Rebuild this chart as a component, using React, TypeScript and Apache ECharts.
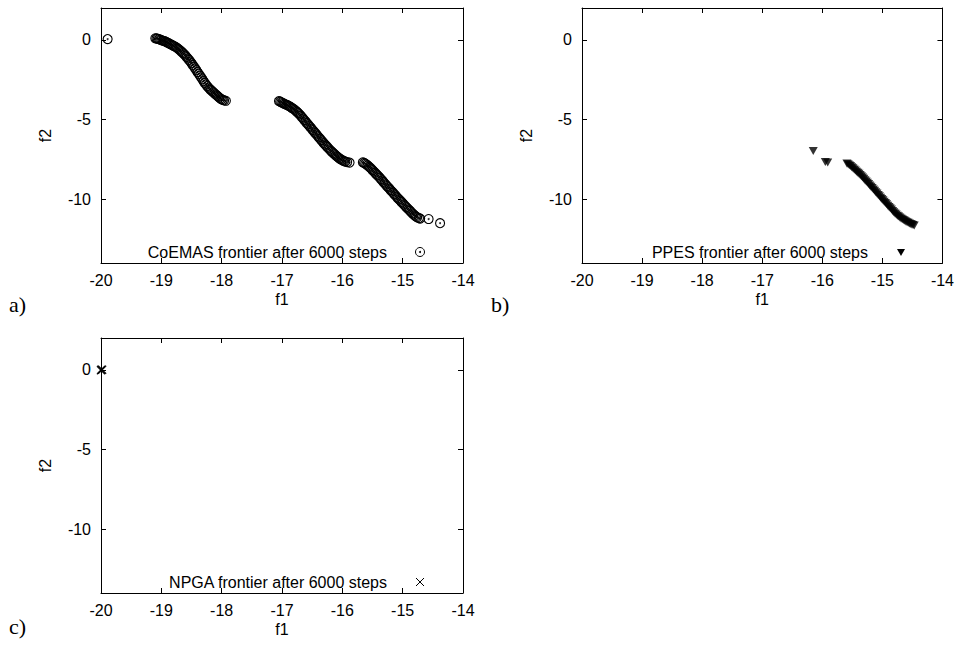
import React, { useEffect, useRef } from "react";
import * as echarts from "echarts";

// ---- axis ranges & ticks ----
const F1_MIN = -20;
const F1_MAX = -14;
const F1_STEP = 1;
const F2_MIN = -14;
const F2_MAX = 2;
const F2_TICKS = [-10, -5, 0];

// ---- CoEMAS frontier after 6000 steps (f1, f2) ----
const coemasIsolated: number[][] = [
  [-19.89, 0.05],
  [-14.57, -11.24],
  [-14.38, -11.5],
];
const coemasArc1: number[][] = [
  [-19.1, 0.1], [-19.08, 0.09], [-19.06, 0.07], [-19.04, 0.05], [-19.02, 0.02],
  [-19.0, -0.01], [-18.98, -0.04], [-18.96, -0.07], [-18.94, -0.1], [-18.92, -0.13],
  [-18.9, -0.17], [-18.88, -0.21], [-18.86, -0.25], [-18.84, -0.29], [-18.82, -0.33],
  [-18.8, -0.37], [-18.78, -0.4], [-18.76, -0.45], [-18.74, -0.5], [-18.72, -0.56],
  [-18.7, -0.62], [-18.68, -0.69], [-18.66, -0.76], [-18.64, -0.83], [-18.62, -0.91],
  [-18.6, -0.99], [-18.58, -1.08], [-18.56, -1.17], [-18.54, -1.26], [-18.52, -1.36],
  [-18.5, -1.46], [-18.48, -1.57], [-18.46, -1.68], [-18.44, -1.79], [-18.42, -1.9],
  [-18.4, -2.02], [-18.38, -2.13], [-18.36, -2.25], [-18.34, -2.36], [-18.32, -2.47],
  [-18.3, -2.59], [-18.28, -2.7], [-18.26, -2.8], [-18.24, -2.9], [-18.22, -2.99],
  [-18.2, -3.07], [-18.18, -3.14], [-18.16, -3.21], [-18.14, -3.28], [-18.12, -3.35],
  [-18.1, -3.42], [-18.08, -3.49], [-18.06, -3.56], [-18.04, -3.62], [-18.02, -3.68],
  [-18.0, -3.73], [-17.98, -3.77], [-17.96, -3.8], [-17.93, -3.82],
];
const coemasArc2: number[][] = [
  [-17.05, -3.84], [-17.03, -3.88], [-17.01, -3.92], [-16.99, -3.96], [-16.97, -4.0],
  [-16.95, -4.03], [-16.93, -4.07], [-16.91, -4.1], [-16.89, -4.14], [-16.87, -4.18],
  [-16.85, -4.23], [-16.83, -4.28], [-16.81, -4.33], [-16.79, -4.39], [-16.77, -4.45],
  [-16.75, -4.52], [-16.73, -4.59], [-16.71, -4.67], [-16.69, -4.76], [-16.67, -4.85],
  [-16.65, -4.94], [-16.63, -5.03], [-16.61, -5.12], [-16.59, -5.21], [-16.57, -5.3],
  [-16.55, -5.39], [-16.53, -5.48], [-16.51, -5.57], [-16.49, -5.66], [-16.47, -5.75],
  [-16.45, -5.84], [-16.43, -5.93], [-16.41, -6.02], [-16.39, -6.11], [-16.37, -6.2],
  [-16.35, -6.29], [-16.33, -6.38], [-16.31, -6.47], [-16.29, -6.56], [-16.27, -6.64],
  [-16.25, -6.72], [-16.23, -6.8], [-16.21, -6.88], [-16.19, -6.96], [-16.17, -7.03],
  [-16.15, -7.1], [-16.13, -7.17], [-16.11, -7.24], [-16.09, -7.31], [-16.07, -7.37],
  [-16.05, -7.43], [-16.03, -7.48], [-16.01, -7.53], [-15.99, -7.57], [-15.97, -7.61],
  [-15.95, -7.64], [-15.92, -7.67], [-15.88, -7.7],
];
const coemasArc3: number[][] = [
  [-15.66, -7.68], [-15.64, -7.72], [-15.62, -7.77], [-15.6, -7.82], [-15.58, -7.88],
  [-15.56, -7.95], [-15.54, -8.02], [-15.52, -8.09], [-15.5, -8.17], [-15.48, -8.25],
  [-15.46, -8.33], [-15.44, -8.41], [-15.42, -8.49], [-15.4, -8.57], [-15.38, -8.65],
  [-15.36, -8.73], [-15.34, -8.82], [-15.32, -8.91], [-15.3, -9.0], [-15.28, -9.08],
  [-15.26, -9.17], [-15.24, -9.25], [-15.22, -9.34], [-15.2, -9.42], [-15.18, -9.51],
  [-15.16, -9.59], [-15.14, -9.68], [-15.12, -9.76], [-15.1, -9.85], [-15.08, -9.93],
  [-15.06, -10.01], [-15.04, -10.09], [-15.02, -10.17], [-15.0, -10.25], [-14.98, -10.33],
  [-14.96, -10.41], [-14.94, -10.49], [-14.92, -10.57], [-14.9, -10.65], [-14.88, -10.72],
  [-14.86, -10.8], [-14.84, -10.88], [-14.82, -10.95], [-14.8, -11.02], [-14.78, -11.08],
  [-14.76, -11.13], [-14.73, -11.18], [-14.71, -11.21],
];

// ---- PPES frontier after 6000 steps ----
const ppesIsolated: number[][] = [
  [-16.15, -6.98],
  [-15.95, -7.67],
  [-15.91, -7.7],
];
const ppesArc: number[][] = [
  [-15.59, -7.76], [-15.57, -7.8], [-15.55, -7.86], [-15.53, -7.92], [-15.51, -7.99],
  [-15.49, -8.06], [-15.47, -8.13], [-15.45, -8.2], [-15.43, -8.27], [-15.41, -8.33],
  [-15.39, -8.4], [-15.37, -8.48], [-15.35, -8.56], [-15.33, -8.64], [-15.31, -8.72],
  [-15.29, -8.8], [-15.27, -8.88], [-15.25, -8.96], [-15.23, -9.05], [-15.21, -9.13],
  [-15.19, -9.22], [-15.17, -9.3], [-15.15, -9.39], [-15.13, -9.47], [-15.11, -9.56],
  [-15.09, -9.64], [-15.07, -9.73], [-15.05, -9.81], [-15.03, -9.9], [-15.01, -9.98],
  [-14.99, -10.07], [-14.97, -10.15], [-14.95, -10.24], [-14.93, -10.32], [-14.91, -10.41],
  [-14.89, -10.49], [-14.87, -10.57], [-14.85, -10.65], [-14.83, -10.73], [-14.81, -10.81],
  [-14.79, -10.89], [-14.77, -10.96], [-14.75, -11.03], [-14.73, -11.09], [-14.71, -11.15],
  [-14.69, -11.2], [-14.67, -11.25], [-14.65, -11.3], [-14.63, -11.35], [-14.61, -11.4],
  [-14.59, -11.44], [-14.57, -11.48], [-14.55, -11.52], [-14.53, -11.55], [-14.51, -11.58],
  [-14.49, -11.61], [-14.47, -11.64],
];

// ---- NPGA frontier after 6000 steps ----
const npgaPoints: number[][] = [
  [-20.0, 0.0],
  [-19.99, 0.02],
  [-20.0, -0.03],
  [-19.98, 0.01],
];

const LEGEND_TEXTS = [
  "CoEMAS frontier after 6000 steps",
  "PPES frontier after 6000 steps",
  "NPGA frontier after 6000 steps",
];
const PANEL_LABELS = ["a)", "b)", "c)"];

// ---- layout ----
const GRIDS = [
  { left: 101, top: 8 },
  { left: 582, top: 8 },
  { left: 101, top: 338 },
];
const GW = 362;
const GH = 255;
const SANS = "'Liberation Sans', Arial, Helvetica, sans-serif";
const SERIF = "'Liberation Serif', 'Times New Roman', serif";
const FS = 16;

export default function App() {
  const ref = useRef<HTMLDivElement>(null);
  useEffect(() => {
    if (!ref.current) return;
    const chart = echarts.init(ref.current, undefined, { renderer: "svg" });

    const grid = GRIDS.map((g) => ({
      left: g.left,
      top: g.top,
      width: GW,
      height: GH,
      show: false,
      containLabel: false,
    }));

    const tick = { show: true, inside: true, length: 5, lineStyle: { color: "#000", width: 1 } };
    const line = { show: true, onZero: false, lineStyle: { color: "#000", width: 1 } };
    const label = { color: "#000", fontSize: FS, fontFamily: SANS };

    const xAxis: any[] = [];
    const yAxis: any[] = [];
    GRIDS.forEach((_, i) => {
      xAxis.push({
        type: "value",
        gridIndex: i,
        position: "bottom",
        min: F1_MIN,
        max: F1_MAX,
        interval: F1_STEP,
        name: "f1",
        nameLocation: "middle",
        nameGap: 28,
        nameTextStyle: { ...label },
        axisLine: line,
        axisTick: tick,
        axisLabel: { ...label, margin: 9 },
        splitLine: { show: false },
      });
      xAxis.push({
        type: "value",
        gridIndex: i,
        position: "top",
        min: F1_MIN,
        max: F1_MAX,
        interval: F1_STEP,
        axisLine: line,
        axisTick: tick,
        axisLabel: { show: false },
        splitLine: { show: false },
      });
      yAxis.push({
        type: "value",
        gridIndex: i,
        position: "left",
        min: F2_MIN,
        max: F2_MAX,
        name: "f2",
        nameLocation: "middle",
        nameGap: 48,
        nameRotate: 90,
        nameTextStyle: { ...label },
        axisLine: line,
        axisTick: { ...tick, customValues: F2_TICKS },
        axisLabel: { ...label, margin: 10, customValues: F2_TICKS },
        splitLine: { show: false },
      });
      yAxis.push({
        type: "value",
        gridIndex: i,
        position: "right",
        min: F2_MIN,
        max: F2_MAX,
        axisLine: line,
        axisTick: { ...tick, customValues: F2_TICKS },
        axisLabel: { show: false, customValues: F2_TICKS },
        splitLine: { show: false },
      });
    });

    const ring = {
      type: "scatter",
      symbol: "circle",
      symbolSize: 9,
      clip: false,
      itemStyle: { color: "transparent", borderColor: "#000", borderWidth: 1.1, opacity: 1 },
      emphasis: { disabled: true },
      silent: true,
    };
    const dot = {
      type: "scatter",
      symbol: "circle",
      symbolSize: 2,
      clip: false,
      itemStyle: { color: "#000" },
      emphasis: { disabled: true },
      silent: true,
    };
    const coemasAll = [...coemasIsolated, ...coemasArc1, ...coemasArc2, ...coemasArc3];
    const ppesAll = [...ppesIsolated, ...ppesArc];

    const series: any[] = [
      { ...ring, name: "CoEMAS", xAxisIndex: 0, yAxisIndex: 0, data: coemasAll },
      { ...dot, name: "CoEMAS centre", xAxisIndex: 0, yAxisIndex: 0, data: coemasAll },
      {
        type: "scatter",
        name: "PPES",
        xAxisIndex: 2,
        yAxisIndex: 2,
        symbol: "triangle",
        symbolRotate: 180,
        symbolSize: [9, 8],
        clip: false,
        itemStyle: { color: "#000" },
        emphasis: { disabled: true },
        silent: true,
        data: ppesAll,
      },
      {
        type: "scatter",
        name: "NPGA",
        xAxisIndex: 4,
        yAxisIndex: 4,
        symbol: "path://M0,0L10,10M10,0L0,10",
        symbolSize: 8,
        clip: false,
        itemStyle: { color: "transparent", borderColor: "#000", borderWidth: 1.2 },
        emphasis: { disabled: true },
        silent: true,
        data: npgaPoints,
      },
    ];

    const graphic: any[] = [];
    GRIDS.forEach((g, i) => {
      const ty = g.top + 244;
      const sx = g.left + 319;
      graphic.push({
        type: "text",
        x: g.left + 286,
        y: ty,
        silent: true,
        style: {
          text: LEGEND_TEXTS[i],
          fill: "#000",
          fontSize: FS,
          fontFamily: SANS,
          align: "right",
          verticalAlign: "middle",
        },
      });
      if (i === 0) {
        graphic.push({
          type: "circle",
          silent: true,
          shape: { cx: sx, cy: ty, r: 4.5 },
          style: { fill: "none", stroke: "#000", lineWidth: 1 },
        });
        graphic.push({
          type: "circle",
          silent: true,
          shape: { cx: sx, cy: ty, r: 1 },
          style: { fill: "#000" },
        });
      } else if (i === 1) {
        graphic.push({
          type: "polygon",
          silent: true,
          shape: { points: [[sx - 4, ty - 3], [sx + 4, ty - 3], [sx, ty + 4]] },
          style: { fill: "#000" },
        });
      } else {
        graphic.push({
          type: "line",
          silent: true,
          shape: { x1: sx - 4, y1: ty - 4, x2: sx + 4, y2: ty + 4 },
          style: { stroke: "#000", lineWidth: 1 },
        });
        graphic.push({
          type: "line",
          silent: true,
          shape: { x1: sx + 4, y1: ty - 4, x2: sx - 4, y2: ty + 4 },
          style: { stroke: "#000", lineWidth: 1 },
        });
      }
      graphic.push({
        type: "text",
        x: i === 1 ? 491 : 9,
        y: g.top + (i === 2 ? 288 : 296),
        silent: true,
        style: {
          text: PANEL_LABELS[i],
          fill: "#000",
          fontSize: 22,
          fontFamily: SERIF,
          align: "left",
          verticalAlign: "middle",
        },
      });
    });

    chart.setOption({
      animation: false,
      backgroundColor: "#fff",
      grid,
      xAxis,
      yAxis,
      series,
      graphic,
    });
    return () => chart.dispose();
  }, []);

  return (
    <div
      ref={ref}
      style={{ position: "absolute", left: 0, top: 0, width: 957, height: 648 }}
    />
  );
}
